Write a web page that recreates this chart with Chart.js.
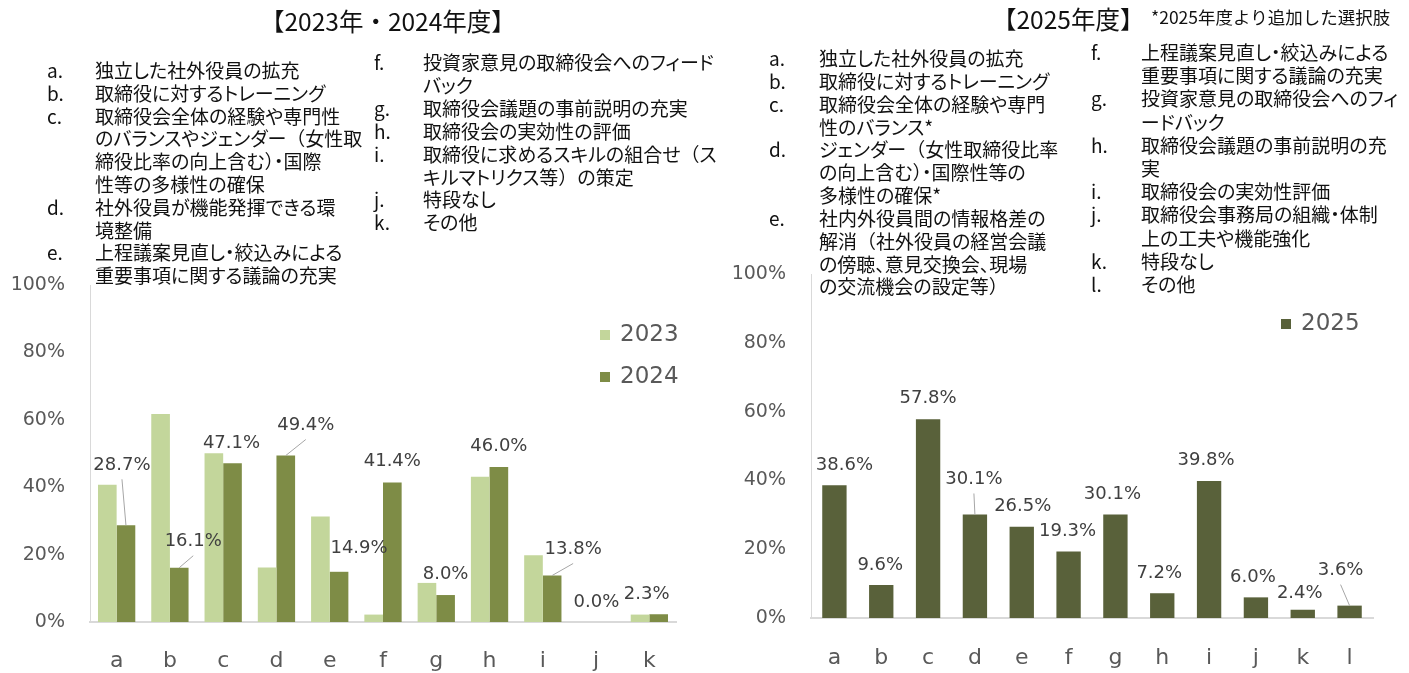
<!DOCTYPE html>
<html lang="ja">
<head>
<meta charset="utf-8">
<script src="https://cdn.jsdelivr.net/npm/chart.js@4.4.1/dist/chart.umd.min.js"></script>
<style>
  html, body { margin: 0; padding: 0; background: #fff; }
  body { position: relative; width: 1409px; height: 673px; overflow: hidden; }
  canvas { position: absolute; top: 0; }
  .title { position: absolute; font-family: "Noto Sans CJK JP", sans-serif; font-weight: 400; color: #111; white-space: nowrap; }
  .list { position: absolute; font-family: "Noto Sans CJK JP", sans-serif; font-size: 19px; color: #111;
          font-feature-settings: "palt"; white-space: nowrap; }
  .list .fw { font-feature-settings: normal; }
  .it { display: flex; }
  .it .k { flex: none; }
</style>
</head>
<body>
<canvas id="chart2024" width="700" height="673" style="left:0"></canvas>
<canvas id="chart2025" width="689" height="673" style="left:720px"></canvas>

<div class="title" style="left:260px;top:3px;font-size:24.5px;">【2023年・2024年度】</div>
<div class="title" style="left:992px;top:1px;font-size:24.5px;">【2025年度】</div>
<div class="title" style="left:1151px;top:4px;font-size:17.5px;">*2025年度より追加した選択肢</div>

<div class="list" style="left:47px;top:59px;line-height:22.8px;">
  <div class="it"><span class="k" style="width:48px">a.</span><span>独立した社外役員の拡充</span></div>
  <div class="it"><span class="k" style="width:48px">b.</span><span>取締役に対するトレーニング</span></div>
  <div class="it"><span class="k" style="width:48px">c.</span><span>取締役会全体の経験や専門性<br>のバランスやジェンダー<span class="fw">（</span>女性取<br>締役比率の向上含む<span class="fw">）</span>・国際<br>性等の多様性の確保</span></div>
  <div class="it"><span class="k" style="width:48px">d.</span><span>社外役員が機能発揮できる環<br>境整備</span></div>
  <div class="it"><span class="k" style="width:48px">e.</span><span>上程議案見直し・絞込みによる<br>重要事項に関する議論の充実</span></div>
</div>
<div class="list" style="left:374px;top:51px;line-height:22.9px;">
  <div class="it"><span class="k" style="width:49px">f.</span><span>投資家意見の取締役会へのフィード<br>バック</span></div>
  <div class="it"><span class="k" style="width:49px">g.</span><span>取締役会議題の事前説明の充実</span></div>
  <div class="it"><span class="k" style="width:49px">h.</span><span>取締役会の実効性の評価</span></div>
  <div class="it"><span class="k" style="width:49px">i.</span><span>取締役に求めるスキルの組合せ<span class="fw">（</span>ス<br>キルマトリクス等<span class="fw">）</span>の策定</span></div>
  <div class="it"><span class="k" style="width:49px">j.</span><span>特段なし</span></div>
  <div class="it"><span class="k" style="width:49px">k.</span><span>その他</span></div>
</div>

<div class="list" style="left:769px;top:47px;line-height:22.84px;">
  <div class="it"><span class="k" style="width:50px">a.</span><span>独立した社外役員の拡充</span></div>
  <div class="it"><span class="k" style="width:50px">b.</span><span>取締役に対するトレーニング</span></div>
  <div class="it"><span class="k" style="width:50px">c.</span><span>取締役会全体の経験や専門<br>性のバランス*</span></div>
  <div class="it"><span class="k" style="width:50px">d.</span><span>ジェンダー<span class="fw">（</span>女性取締役比率<br>の向上含む<span class="fw">）</span>・国際性等の<br>多様性の確保*</span></div>
  <div class="it"><span class="k" style="width:50px">e.</span><span>社内外役員間の情報格差の<br>解消<span class="fw">（</span>社外役員の経営会議<br>の傍聴、意見交換会、現場<br>の交流機会の設定等<span class="fw">）</span></span></div>
</div>
<div class="list" style="left:1091px;top:40px;line-height:23.2px;">
  <div class="it"><span class="k" style="width:50px">f.</span><span>上程議案見直し・絞込みによる<br>重要事項に関する議論の充実</span></div>
  <div class="it"><span class="k" style="width:50px">g.</span><span>投資家意見の取締役会へのフィ<br>ードバック</span></div>
  <div class="it"><span class="k" style="width:50px">h.</span><span>取締役会議題の事前説明の充<br>実</span></div>
  <div class="it"><span class="k" style="width:50px">i.</span><span>取締役会の実効性評価</span></div>
  <div class="it"><span class="k" style="width:50px">j.</span><span>取締役会事務局の組織・体制<br>上の工夫や機能強化</span></div>
  <div class="it"><span class="k" style="width:50px">k.</span><span>特段なし</span></div>
  <div class="it"><span class="k" style="width:50px">l.</span><span>その他</span></div>
</div>

<script>
// survey shares, percent of respondents
const categories2024 = ["a", "b", "c", "d", "e", "f", "g", "h", "i", "j", "k"]
const share2023 = [40.7, 61.7, 50.1, 16.2, 31.3, 2.2, 11.6, 43.1, 19.8, 0.0, 2.2]
const share2024 = [28.7, 16.1, 47.1, 49.4, 14.9, 41.4, 8.0, 46.0, 13.8, 0.0, 2.3]

const categories2025 = ["a", "b", "c", "d", "e", "f", "g", "h", "i", "j", "k", "l"]
const share2025 = [38.6, 9.6, 57.8, 30.1, 26.5, 19.3, 30.1, 7.2, 39.8, 6.0, 2.4, 3.6]

const yTicks = [0, 20, 40, 60, 80, 100]

// hand-placed value labels: [dx, dy, leader line] from the bar top
const nudge2024 = [
  [-4, -60, true], [14, -26, true], [-1, -20, false], [20, -30, true],
  [20, -23, false], [0, -21, false], [0, -21, false], [0, -21, false],
  [21, -26, true], [-9, -20, false], [-12, -20, false],
]
const nudge2025 = [
  [10, -20, false], [-1, -20, false], [0, -21, false], [-1, -35, true],
  [1, -21, false], [-1, -20, false], [-3, -20, false], [-3, -20, false],
  [-3, -21, false], [-3, -20, false], [-3, -16, false], [-9, -35, true],
]

const TEXT_GREY = "#595959"
const LABEL_GREY = "#404040"
const AXIS_GREY = "#d9d9d9"

const valueLabels = {
  id: "valueLabels",
  afterDatasetsDraw(chart) {
    const { ctx } = chart
    chart.data.datasets.forEach((ds, di) => {
      if (!ds.labelNudge) return
      const meta = chart.getDatasetMeta(di)
      meta.data.forEach((bar, i) => {
        const [dx, dy, leader] = ds.labelNudge[i]
        const x = bar.x + dx
        const y = bar.y + dy
        ctx.save()
        if (leader) {
          ctx.strokeStyle = "#a6a6a6"
          ctx.lineWidth = 1
          ctx.beginPath()
          ctx.moveTo(x, y + 14)
          ctx.lineTo(bar.x, bar.y)
          ctx.stroke()
        }
        ctx.font = '18px "DejaVu Sans"'
        ctx.fillStyle = LABEL_GREY
        ctx.textAlign = "center"
        ctx.textBaseline = "middle"
        ctx.fillText(ds.data[i].toFixed(1) + "%", x, y)
        ctx.restore()
      })
    })
  },
}

// legend drawn inside the plot, one row per dataset
const innerLegend = {
  id: "innerLegend",
  afterDraw(chart, args, opts) {
    const { ctx } = chart
    ctx.save()
    ctx.font = '23px "DejaVu Sans"'
    ctx.textBaseline = "middle"
    chart.data.datasets.forEach((ds, i) => {
      const y = opts.y + i * opts.gap
      ctx.fillStyle = ds.backgroundColor
      ctx.fillRect(opts.x, y - 5, 10, 10)
      ctx.fillStyle = TEXT_GREY
      ctx.fillText(ds.label, opts.x + 20, y)
    })
    ctx.restore()
  },
}

function options(pad, yWidth, xHeight, xPad, legend) {
  return {
    responsive: false,
    animation: false,
    layout: { padding: pad },
    scales: {
      x: {
        grid: { display: false, drawTicks: false },
        border: { display: true, color: AXIS_GREY, width: 2 },
        ticks: { color: TEXT_GREY, font: { family: "DejaVu Sans", size: 22 }, padding: xPad },
        afterFit: (s) => { s.height = xHeight },
      },
      y: {
        min: 0,
        max: 100,
        grid: { display: false, drawTicks: false },
        border: { display: true, color: AXIS_GREY, width: 1 },
        afterBuildTicks: (s) => { s.ticks = yTicks.map((v) => ({ value: v })) },
        ticks: {
          color: TEXT_GREY,
          font: { family: "DejaVu Sans", size: 19 },
          padding: 25,
          callback: (v) => v + "%",
        },
        afterFit: (s) => { s.width = yWidth },
      },
    },
    plugins: {
      legend: { display: false },
      tooltip: { enabled: false },
      innerLegend: legend,
    },
  }
}

new Chart(document.getElementById("chart2024"), {
  type: "bar",
  data: {
    labels: categories2024,
    datasets: [
      { label: "2023", data: share2023, backgroundColor: "#c3d69b",
        categoryPercentage: 0.7, barPercentage: 1.0 },
      { label: "2024", data: share2024, backgroundColor: "#7e8c46",
        categoryPercentage: 0.7, barPercentage: 1.0, labelNudge: nudge2024 },
    ],
  },
  options: options({ top: 285, right: 24, left: 0, bottom: 0 }, 90, 51, 26,
                   { x: 600, y: 335, gap: 42 }),
  plugins: [valueLabels, innerLegend],
})

new Chart(document.getElementById("chart2025"), {
  type: "bar",
  data: {
    labels: categories2025,
    datasets: [
      { label: "2025", data: share2025, backgroundColor: "#59613a",
        categoryPercentage: 0.52, barPercentage: 1.0, labelNudge: nudge2025 },
    ],
  },
  options: options({ top: 274, right: 36, left: 0, bottom: 0 }, 91, 55, 27,
                   { x: 561, y: 324, gap: 42 }),
  plugins: [valueLabels, innerLegend],
})
</script>
</body>
</html>
